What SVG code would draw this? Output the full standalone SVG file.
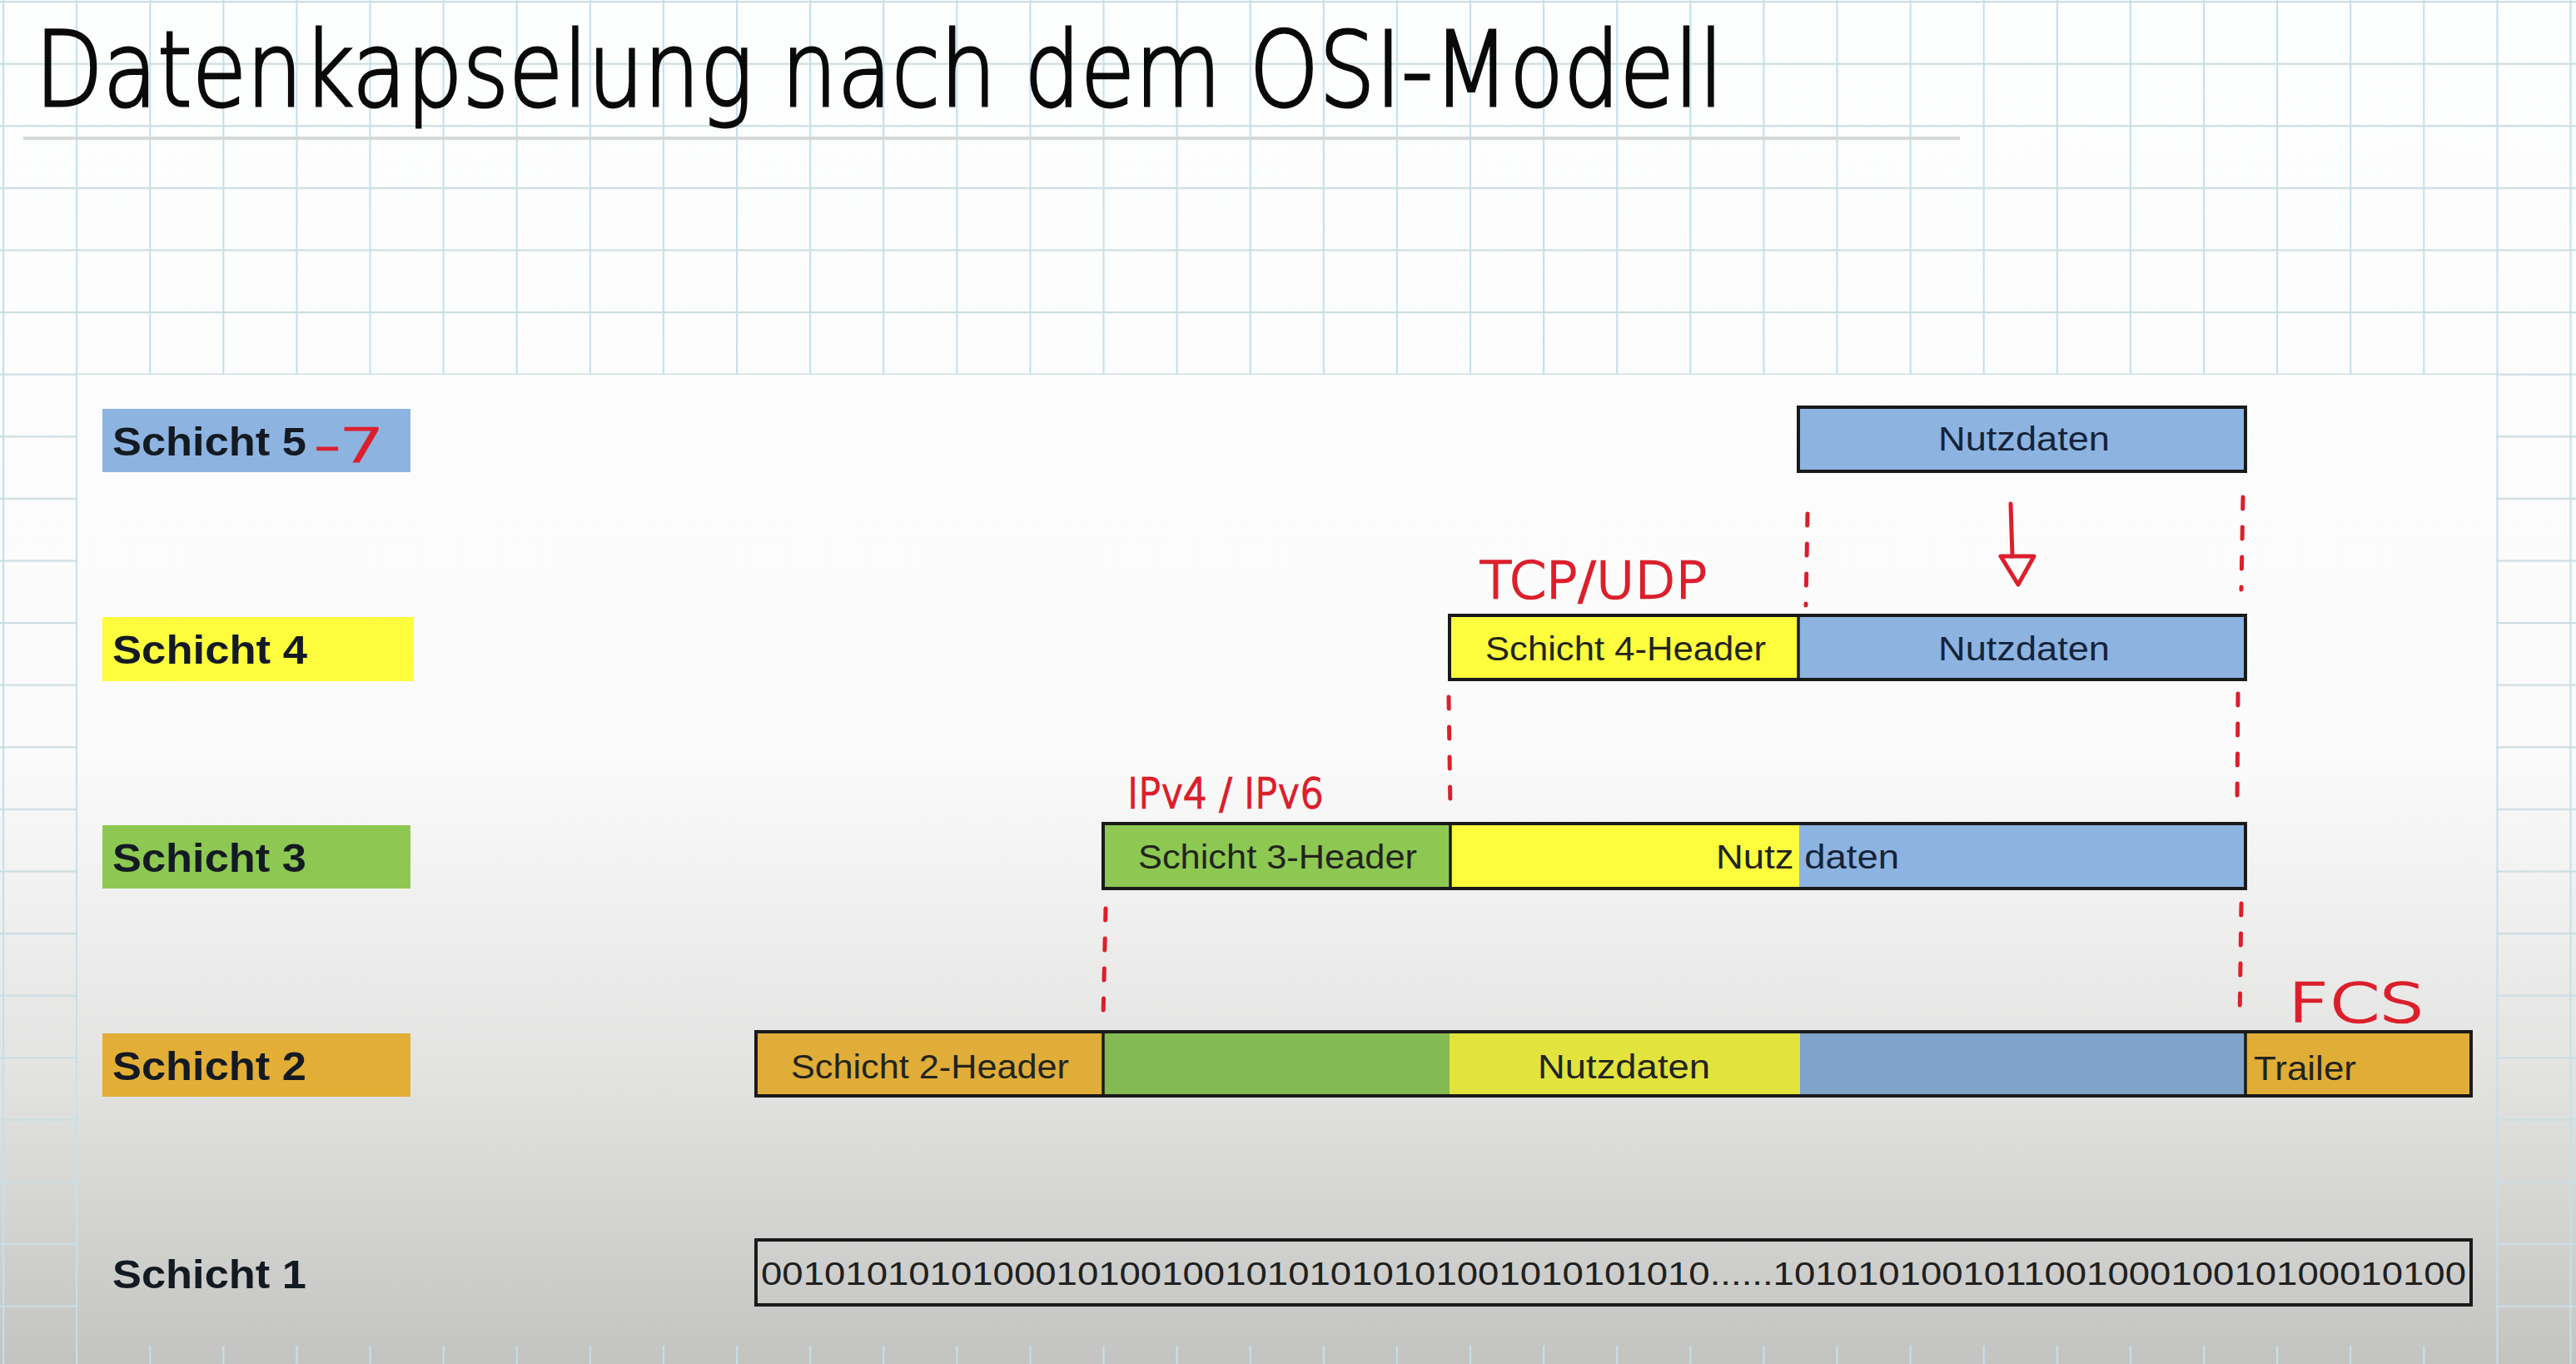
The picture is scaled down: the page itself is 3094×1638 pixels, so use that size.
<svg xmlns="http://www.w3.org/2000/svg" width="3094" height="1638" viewBox="0 0 3094 1638">
<defs>
<linearGradient id="bg" gradientUnits="userSpaceOnUse" x1="0" y1="0" x2="0" y2="1638">
<stop offset="0" stop-color="#fdfefe"/>
<stop offset="0.55" stop-color="#fbfbfb"/>
<stop offset="0.8" stop-color="#e1e2e0"/>
<stop offset="1" stop-color="#c3c4c1"/>
</linearGradient>
<pattern id="grid" patternUnits="userSpaceOnUse" x="3" y="1" width="88.1" height="74.6">
<path d="M1 0V74.6" stroke="#c3e0ec" stroke-width="2.2"/>
<path d="M0 1H88.1" stroke="#cddde2" stroke-width="2.6"/>
</pattern>
<style>
.lbl{font-family:"Liberation Sans",Arial,sans-serif;font-weight:bold;font-size:48px;fill:#141a22}
.bt{font-family:"Liberation Sans",Arial,sans-serif;font-size:40px;fill:#22241c}
.nd{fill:#14233a}
.outline{fill:none;stroke:#1a1a1a;stroke-width:4}
.div{stroke:#1a1a1a;stroke-width:3.5}
.blue{fill:#8db3e0}
.yel{fill:#fdfd3e}
.grn{fill:#8dc852}
.org{fill:#e2ae36}
.red{fill:none;stroke:#dc1f2c;stroke-width:5;stroke-linecap:round;stroke-linejoin:round}
.dash{stroke-dasharray:14 22}
.rt{font-family:"DejaVu Sans",sans-serif;font-weight:200;fill:#dc1f2c;stroke:#dc1f2c;stroke-width:2.5}
</style>
</defs>

<!-- paper background with grid -->
<rect x="0" y="0" width="3094" height="1638" fill="url(#bg)"/>
<rect x="0" y="0" width="3094" height="1638" fill="url(#grid)"/>
<line x1="28" y1="166" x2="2354" y2="166" stroke="#d6d8d8" stroke-width="4"/>
<!-- slide area -->
<rect x="93" y="450" width="2905" height="1166" fill="url(#bg)"/>

<!-- title -->
<text id="title" x="42" y="127" font-family="DejaVu Sans, sans-serif" font-weight="200" font-size="124" fill="#0a0a0a" stroke="#0a0a0a" stroke-width="3" textLength="2028" lengthAdjust="spacingAndGlyphs">Datenkapselung nach dem OSI-Modell</text>

<!-- layer labels -->
<g id="label5">
<rect x="123" y="491" width="370" height="76" class="blue"/>
<text x="135" y="547" class="lbl" textLength="233" lengthAdjust="spacingAndGlyphs">Schicht 5</text>
<text x="378" y="554" class="rt" font-size="56" textLength="84" lengthAdjust="spacingAndGlyphs">-7</text>
</g>
<g id="label4">
<rect x="123" y="741" width="374" height="77" class="yel"/>
<text x="135" y="797" class="lbl" textLength="234" lengthAdjust="spacingAndGlyphs">Schicht 4</text>
</g>
<g id="label3">
<rect x="123" y="991" width="370" height="76" class="grn"/>
<text x="135" y="1047" class="lbl" textLength="233" lengthAdjust="spacingAndGlyphs">Schicht 3</text>
</g>
<g id="label2">
<rect x="123" y="1241" width="370" height="76" class="org"/>
<text x="135" y="1297" class="lbl" textLength="233" lengthAdjust="spacingAndGlyphs">Schicht 2</text>
</g>
<g id="label1">
<text x="135" y="1547" class="lbl" textLength="233" lengthAdjust="spacingAndGlyphs">Schicht 1</text>
</g>

<!-- row 5 -->
<g id="pdu5">
<rect x="2160" y="489" width="537" height="77" class="blue"/>
<rect x="2160" y="489" width="537" height="77" class="outline"/>
<text x="2328" y="541" class="bt nd" textLength="206" lengthAdjust="spacingAndGlyphs">Nutzdaten</text>
</g>

<!-- row 4 -->
<g id="pdu4">
<rect x="1741" y="739" width="419" height="77" class="yel"/>
<rect x="2160" y="739" width="537" height="77" class="blue"/>
<rect x="1741" y="739" width="956" height="77" class="outline"/>
<line x1="2160" y1="739" x2="2160" y2="816" class="div"/>
<text x="1784" y="793" class="bt" textLength="337" lengthAdjust="spacingAndGlyphs">Schicht 4-Header</text>
<text x="2328" y="793" class="bt nd" textLength="206" lengthAdjust="spacingAndGlyphs">Nutzdaten</text>
</g>

<!-- row 3 -->
<g id="pdu3">
<rect x="1325" y="989" width="417" height="78" class="grn"/>
<rect x="1742" y="989" width="419" height="78" class="yel"/>
<rect x="2161" y="989" width="536" height="78" class="blue"/>
<rect x="1325" y="989" width="1372" height="78" class="outline"/>
<line x1="1742" y1="989" x2="1742" y2="1067" class="div"/>
<text x="1367" y="1043" class="bt" textLength="335" lengthAdjust="spacingAndGlyphs">Schicht 3-Header</text>
<text x="2061" y="1043" class="bt" textLength="220" lengthAdjust="spacingAndGlyphs">Nutz <tspan class="nd">daten</tspan></text>
</g>

<!-- row 2 -->
<g id="pdu2">
<rect x="908" y="1239" width="417" height="77" fill="#e0ad38"/>
<rect x="1325" y="1239" width="416" height="77" fill="#84ba52"/>
<rect x="1741" y="1239" width="421" height="77" fill="#e3e33e"/>
<rect x="2162" y="1239" width="535" height="77" fill="#7fa3ca"/>
<rect x="2697" y="1239" width="271" height="77" fill="#e0ad36"/>
<rect x="908" y="1239" width="2060" height="77" class="outline"/>
<line x1="1325" y1="1239" x2="1325" y2="1316" class="div"/>
<line x1="2697" y1="1239" x2="2697" y2="1316" class="div"/>
<text x="950" y="1295" class="bt" textLength="334" lengthAdjust="spacingAndGlyphs">Schicht 2-Header</text>
<text x="1847" y="1295" class="bt" textLength="207" lengthAdjust="spacingAndGlyphs">Nutzdaten</text>
<text x="2707" y="1297" class="bt" textLength="123" lengthAdjust="spacingAndGlyphs">Trailer</text>
<text x="2748" y="1227" class="rt" font-size="64" textLength="164" lengthAdjust="spacingAndGlyphs">FCS</text>
</g>

<!-- row 1 -->
<g id="pdu1">
<rect x="908" y="1489" width="2060" height="78" class="outline"/>
<text x="914" y="1543" font-family="Liberation Sans, Arial, sans-serif" font-size="38" fill="#202020" textLength="2048" lengthAdjust="spacingAndGlyphs">001010101010001010010010101010101001010101010......101010100101100100010010100010100</text>
</g>

<!-- annotations -->
<g id="annotations">
<text x="1777" y="718" class="rt" font-size="60" textLength="274" lengthAdjust="spacingAndGlyphs">TCP/UDP</text>
<text x="1354" y="970" class="rt" font-size="50" textLength="236" lengthAdjust="spacingAndGlyphs">IPv4 / IPv6</text>
</g>

<!-- connectors -->
<g id="connectors">
<path d="M2171 617 L2169 727" class="red dash"/>
<path d="M2694 597 L2692 708" class="red dash"/>
<path d="M1740 837 L1742 973" class="red dash"/>
<path d="M2688 833 L2687 967" class="red dash"/>
<path d="M1328 1091 L1325 1223" class="red dash"/>
<path d="M2692 1085 L2690 1228" class="red dash"/>
<path d="M2415 605 L2417 668" class="red"/>
<path d="M2403 668 L2443 668 L2424 702 Z" class="red"/>
</g>
</svg>
